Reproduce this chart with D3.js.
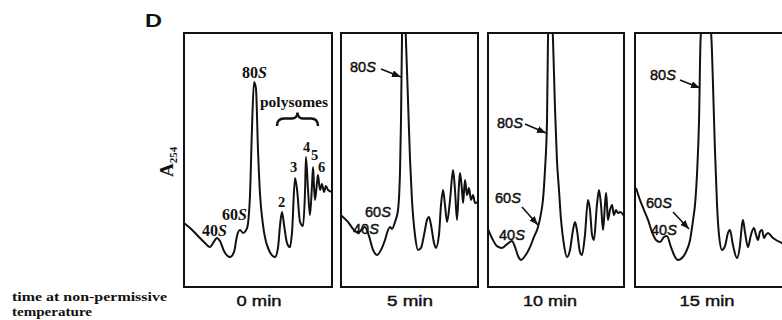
<!DOCTYPE html>
<html>
<head>
<meta charset="utf-8">
<script src="https://cdn.jsdelivr.net/npm/d3@7"></script>
<style>
  body { margin: 0; background: #fff; }
  text { fill: #111; }
  .heavy { stroke: #111; stroke-width: 0.45; }
</style>
</head>
<body>
<div id="chart"></div>
<script>
// time after shift to non-permissive temperature, one profile per panel
const panelTimes = ["0 min", "5 min", "10 min", "15 min"];

// A254 traces: [fraction of gradient (top -> bottom), A254 in panel units]
const profile0 = [
  [0, 0.252], [0.041, 0.232], [0.088, 0.205], [0.135, 0.177], [0.176, 0.157], [0.196, 0.173],
  [0.223, 0.193], [0.243, 0.181], [0.270, 0.142], [0.311, 0.118], [0.338, 0.138], [0.358, 0.201],
  [0.378, 0.224], [0.399, 0.213], [0.426, 0.232], [0.446, 0.362], [0.459, 0.618], [0.473, 0.807],
  [0.486, 0.783], [0.500, 0.539], [0.514, 0.362], [0.534, 0.244], [0.561, 0.165], [0.615, 0.118],
  [0.635, 0.154], [0.649, 0.244], [0.662, 0.295], [0.676, 0.244], [0.696, 0.173], [0.716, 0.157],
  [0.730, 0.217], [0.750, 0.429], [0.764, 0.382], [0.784, 0.256], [0.804, 0.240], [0.818, 0.382],
  [0.824, 0.512], [0.838, 0.382], [0.851, 0.283], [0.865, 0.402], [0.872, 0.472], [0.878, 0.402],
  [0.885, 0.343], [0.899, 0.413], [0.905, 0.441], [0.919, 0.382], [0.932, 0.406], [0.946, 0.374],
  [0.959, 0.398], [0.973, 0.382], [1.0, 0.374]
];
const profile5 = [
  [0, 0.283], [0.051, 0.256], [0.095, 0.224], [0.124, 0.213], [0.153, 0.228], [0.175, 0.236],
  [0.204, 0.201], [0.234, 0.146], [0.263, 0.126], [0.292, 0.146], [0.321, 0.185], [0.343, 0.224],
  [0.358, 0.236], [0.372, 0.228], [0.394, 0.256], [0.416, 0.303], [0.431, 0.461], [0.438, 0.657],
  [0.445, 0.972], [0.460, 1.169], [0.474, 0.972], [0.489, 0.736], [0.504, 0.500], [0.518, 0.343],
  [0.540, 0.205], [0.562, 0.146], [0.584, 0.154], [0.606, 0.205], [0.628, 0.264], [0.642, 0.276],
  [0.657, 0.244], [0.679, 0.173], [0.693, 0.154], [0.715, 0.205], [0.730, 0.323], [0.745, 0.382],
  [0.759, 0.323], [0.774, 0.256], [0.796, 0.343], [0.818, 0.461], [0.832, 0.382], [0.847, 0.264],
  [0.861, 0.402], [0.869, 0.449], [0.883, 0.382], [0.891, 0.331], [0.905, 0.421], [0.920, 0.362],
  [0.934, 0.390], [0.949, 0.343], [0.964, 0.362], [0.978, 0.331], [1.0, 0.335]
];
const profile10 = [
  [0, 0.228], [0.029, 0.193], [0.066, 0.161], [0.103, 0.154], [0.140, 0.169], [0.176, 0.181],
  [0.199, 0.157], [0.221, 0.122], [0.243, 0.106], [0.272, 0.122], [0.309, 0.157], [0.338, 0.197],
  [0.368, 0.236], [0.390, 0.291], [0.404, 0.343], [0.419, 0.461], [0.434, 0.657], [0.441, 0.972],
  [0.460, 1.169], [0.478, 0.972], [0.493, 0.697], [0.507, 0.500], [0.522, 0.382], [0.537, 0.264],
  [0.559, 0.165], [0.581, 0.118], [0.603, 0.146], [0.625, 0.224], [0.640, 0.256], [0.654, 0.224],
  [0.676, 0.138], [0.691, 0.126], [0.713, 0.205], [0.735, 0.343], [0.750, 0.303], [0.765, 0.205],
  [0.779, 0.185], [0.801, 0.323], [0.816, 0.382], [0.831, 0.323], [0.846, 0.224], [0.860, 0.323],
  [0.868, 0.370], [0.875, 0.323], [0.882, 0.264], [0.897, 0.303], [0.912, 0.323], [0.926, 0.283],
  [0.941, 0.303], [0.956, 0.291], [0.971, 0.295], [1.0, 0.280]
];
const profile15 = [
  [0.007, 0.390], [0.033, 0.343], [0.060, 0.303], [0.087, 0.264], [0.113, 0.217], [0.140, 0.185],
  [0.167, 0.177], [0.193, 0.197], [0.213, 0.201], [0.240, 0.157], [0.267, 0.118], [0.287, 0.106],
  [0.313, 0.114], [0.340, 0.138], [0.367, 0.185], [0.387, 0.264], [0.400, 0.323], [0.413, 0.441],
  [0.427, 0.657], [0.437, 0.972], [0.473, 1.189], [0.510, 0.972], [0.523, 0.736], [0.533, 0.539],
  [0.547, 0.323], [0.560, 0.205], [0.580, 0.146], [0.600, 0.161], [0.620, 0.213], [0.633, 0.224],
  [0.653, 0.165], [0.680, 0.114], [0.700, 0.165], [0.713, 0.244], [0.720, 0.264], [0.733, 0.217],
  [0.753, 0.157], [0.773, 0.205], [0.793, 0.232], [0.807, 0.205], [0.820, 0.185], [0.833, 0.217],
  [0.847, 0.224], [0.860, 0.193], [0.873, 0.205], [0.887, 0.213], [0.913, 0.197], [0.940, 0.185],
  [0.980, 0.173], [1.0, 0.165]
];
const profiles = [profile0, profile5, profile10, profile15];

// polysome peak numbers in the 0 min panel
const polysomeNumbers = ["2", "3", "4", "5", "6"];

// ---- layout (pixels) ----
const width = 782, height = 320;
const frameTop = 33, frameBottom = 287;
const panelBox = [[184, 332], [341, 478], [488, 624], [635, 785]];

const svg = d3.select("#chart").append("svg")
  .attr("width", width)
  .attr("height", height);

const defs = svg.append("defs");
defs.append("marker")
  .attr("id", "arrow")
  .attr("markerUnits", "userSpaceOnUse")
  .attr("markerWidth", 9).attr("markerHeight", 7)
  .attr("refX", 9).attr("refY", 3.5)
  .attr("orient", "auto")
  .append("path")
  .attr("d", "M0,0 L9,3.5 L0,7 Z")
  .attr("fill", "#111");

const y = d3.scaleLinear().domain([0, 1]).range([frameBottom, frameTop]);

const serif = "'Liberation Serif', 'Times New Roman', serif";
const sans = "'Liberation Sans', Arial, Helvetica, sans-serif";

profiles.forEach((data, i) => {
  const [x0, x1] = panelBox[i];
  const x = d3.scaleLinear().domain([0, 1]).range([x0, x1]);

  defs.append("clipPath").attr("id", "clip" + i)
    .append("rect")
    .attr("x", x0).attr("y", frameTop)
    .attr("width", x1 - x0).attr("height", frameBottom - frameTop);

  const g = svg.append("g");

  // trace
  g.append("path")
    .datum(data)
    .attr("clip-path", "url(#clip" + i + ")")
    .attr("fill", "none")
    .attr("stroke", "#111")
    .attr("stroke-width", 2)
    .attr("stroke-linejoin", "round")
    .attr("d", d3.line()
      .x(d => x(d[0]))
      .y(d => y(d[1]))
      .curve(d3.curveMonotoneX));

  // frame
  g.append("rect")
    .attr("x", x0).attr("y", frameTop)
    .attr("width", x1 - x0).attr("height", frameBottom - frameTop)
    .attr("fill", "none")
    .attr("stroke", "#111")
    .attr("stroke-width", 2);

  // time label under each panel
  const tl = [45, 46, 54, 55][i];
  g.append("text")
    .attr("class", "heavy")
    .attr("x", [259, 410, 550, 707][i] - tl / 2)
    .attr("y", 306)
    .attr("font-family", sans)
    .attr("font-size", 15.5)
    .attr("textLength", tl)
    .attr("lengthAdjust", "spacingAndGlyphs")
    .text(panelTimes[i]);
});

// S-value labels; panel 1 set in bold serif, the others in sans
function sLabel(txt, px, py, font, size, weight) {
  const t = svg.append("text")
    .attr("x", px).attr("y", py)
    .attr("font-family", font)
    .attr("font-size", size)
    .attr("font-weight", weight);
  if (weight === "normal") t.attr("class", "heavy");
  t.append("tspan").text(txt);
  t.append("tspan").attr("font-style", "italic").text("S");
}

sLabel("80", 242, 78, serif, 16, "bold");
sLabel("60", 222, 220, serif, 16, "bold");
sLabel("40", 202, 236, serif, 16, "bold");

const sansLabels = [
  ["80", 350, 72], ["60", 365, 217], ["40", 353, 234],
  ["80", 497, 128], ["60", 495, 203], ["40", 499, 240],
  ["80", 650, 80], ["60", 646, 208], ["40", 651, 235]
];
sansLabels.forEach(d => sLabel(d[0], d[1], d[2], sans, 14.5, "normal"));

const arrows = [
  [381, 69, 401, 77],
  [525, 124, 546, 133],
  [522, 207, 538, 225],
  [680, 80, 700, 88],
  [673, 212, 689, 229]
];
svg.selectAll("line.arrow")
  .data(arrows)
  .enter().append("line")
  .attr("class", "arrow")
  .attr("x1", d => d[0]).attr("y1", d => d[1])
  .attr("x2", d => d[2]).attr("y2", d => d[3])
  .attr("stroke", "#111")
  .attr("stroke-width", 1.6)
  .attr("marker-end", "url(#arrow)");

// polysome annotation
svg.append("text")
  .attr("x", 260).attr("y", 107)
  .attr("font-family", serif)
  .attr("font-size", 15)
  .attr("font-weight", "bold")
  .attr("textLength", 68)
  .attr("lengthAdjust", "spacingAndGlyphs")
  .text("polysomes");

svg.append("path")
  .attr("d", "M277,126 Q277,118.5 284,118.5 L292,118.5 Q297,118.5 297.5,112.5 Q298,118.5 303,118.5 L311,118.5 Q318,118.5 318,126")
  .attr("fill", "none")
  .attr("stroke", "#111")
  .attr("stroke-width", 2.4);

const numPos = [[278, 207], [290, 172], [303, 152], [311, 160], [318, 172]];
svg.selectAll("text.num")
  .data(polysomeNumbers)
  .enter().append("text")
  .attr("class", "num")
  .attr("x", (d, i) => numPos[i][0])
  .attr("y", (d, i) => numPos[i][1])
  .attr("font-family", serif)
  .attr("font-size", 14.5)
  .attr("font-weight", "bold")
  .text(d => d);

// panel letter
svg.append("text")
  .attr("x", 145).attr("y", 27)
  .attr("font-family", sans)
  .attr("font-size", 19)
  .attr("font-weight", "bold")
  .attr("textLength", 17)
  .attr("lengthAdjust", "spacingAndGlyphs")
  .text("D");

// y-axis title A254
const yt = svg.append("text")
  .attr("transform", "translate(173,177) rotate(-90)")
  .attr("font-family", serif)
  .attr("font-size", 19)
  .attr("font-weight", "bold");
yt.append("tspan").text("A");
yt.append("tspan").attr("font-size", 11).attr("dy", 4).text("254");

// row caption, wrapped on two lines
const cap = svg.append("text")
  .attr("font-family", serif)
  .attr("font-size", 13)
  .attr("font-weight", "bold");
cap.append("tspan")
  .attr("x", 12).attr("y", 300.5)
  .attr("textLength", 155)
  .attr("lengthAdjust", "spacingAndGlyphs")
  .text("time at non-permissive");
cap.append("tspan")
  .attr("x", 12).attr("y", 316)
  .attr("textLength", 80)
  .attr("lengthAdjust", "spacingAndGlyphs")
  .text("temperature");
</script>
</body>
</html>
